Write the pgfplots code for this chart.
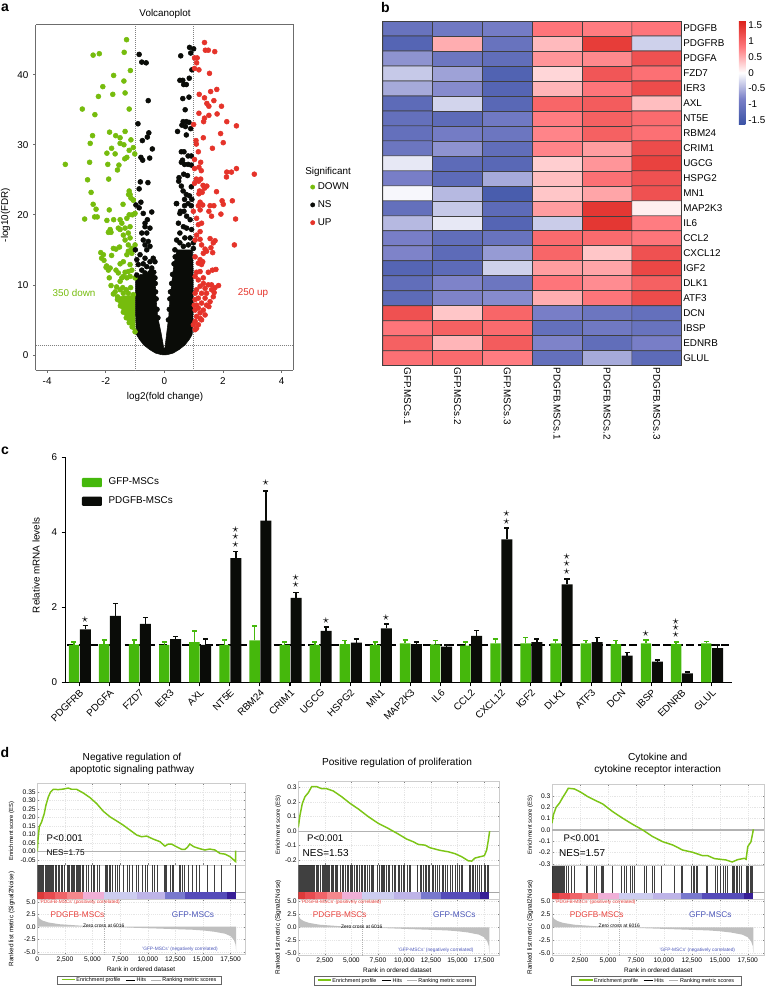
\documentclass[border=0pt]{standalone}
\usepackage{fontspec}
\usepackage{pgfplots}
\usepackage{pgfplotstable}
\pgfplotsset{compat=1.18}
\setmainfont{Liberation Sans}
\definecolor{vgreen}{HTML}{76BC0D}
\definecolor{vred}{HTML}{E5332A}
\definecolor{vblack}{HTML}{0A0C08}
\definecolor{barg}{HTML}{45B80C}
\definecolor{gsgreen}{HTML}{7CC516}
\definecolor{gsframe}{gray}{0.80}
\definecolor{gsgrid}{gray}{0.90}
\definecolor{gsred}{HTML}{E8413C}
\definecolor{gsblue}{HTML}{4A55B8}
\definecolor{sa}{RGB}{222,58,58}
\definecolor{sb}{RGB}{232,75,80}
\definecolor{sc}{RGB}{240,100,105}
\definecolor{sd}{RGB}{245,135,140}
\definecolor{se}{RGB}{240,175,215}
\definecolor{sf}{RGB}{205,205,240}
\definecolor{sg}{RGB}{190,180,232}
\definecolor{sh}{RGB}{120,120,205}
\definecolor{si}{RGB}{85,75,185}
\definecolor{sj}{RGB}{55,30,150}
\newcommand{\fs}[1]{\fontsize{#1}{#1}\selectfont}

\pgfplotsset{
  /pgf/number format/assume math mode=true,
  gsea/.style={scale only axis,xmin=0,axis line style={gsframe,line width=0.6pt},
    tick style={gray,line width=0.3pt},major tick length=1.2pt,grid=major,
    grid style={gsgrid,densely dotted,line width=0.3pt},
    xtick={0,2.5,5,7.5,10,12.5,15,17.5},
    ticklabel style={font=\fs{5}},
    xticklabels={},yticklabel style={inner sep=1pt}},
  gsrank/.style={gsea,xticklabels={0,{2,500},{5,000},{7,500},{10,000},{12,500},{15,000},{17,500}},
    ytick={-5,-2.5,0,2.5,5},yticklabels={-5.0,-2.5,0.0,2.5,5.0},xticklabel style={inner sep=1.5pt}},
  gshit/.style={gsea,ymin=0,ymax=34,ytick=\empty,grid=none,xtick=\empty},
  hits/.style={ycomb,black,opacity=0.75,line width=0.7pt},
}
\newcommand{\seg}[3]{\addplot[fill=#3,draw=none] coordinates {(#1,0)(#2,0)(#2,7)(#1,7)} --cycle;}
\newcommand{\stripdata}{%
  \seg{0}{0.6}{sa}
  \seg{0.6}{1.6}{sb}
  \seg{1.6}{2.7}{sc}
  \seg{2.7}{4.1}{sd}
  \seg{4.1}{6.03}{se}
  \seg{6.03}{9}{sf}
  \seg{9}{11.55}{sg}
  \seg{11.55}{13.4}{sh}
  \seg{13.4}{17.15}{si}
  \seg{17.15}{18}{sj}
  \addplot[gray!70,line width=0.5pt] coordinates {(18,7)(30,7)};
}
% ranked list metric, common to the three GSEA panels
\newcommand{\metric}{%
  \addplot[fill=gray!50,draw=none] coordinates {(0,0)(0,3.3)(0.03,2.6)(0.08,2.0)(0.2,1.6)(0.5,1.2)(1,0.85)(2,0.5)(3,0.35)(4,0.2)(5,0.1)(6.016,0)
   (8,-0.15)(10,-0.3)(12,-0.45)(14,-0.6)(15,-0.75)(16,-1.0)(17,-1.4)(17.5,-1.9)(17.8,-2.7)(17.95,-3.6)(18,-5)(18,0)} --cycle;
  \addplot[gray!60,densely dotted,line width=0.4pt] coordinates {(6.016,-5.5)(6.016,5.5)};
}
\newcommand{\gsealegend}[3]{\node[draw=gray!80!black,line width=0.5pt,inner sep=1.2pt,minimum width=#3*0.75pt,font=\fs{4.1}] at (#1,#2)
  {\textcolor{gsgreen}{\rule[1.2pt]{10pt}{0.8pt}} Enrichment profile\hspace{4pt}\textcolor{black}{\rule[1.2pt]{7pt}{0.5pt}} Hits\hspace{4pt}\textcolor{gray!60}{\rule[1.2pt]{7pt}{0.5pt}} Ranking metric scores};}

\pgfplotstableread{
i  g    ge   b    be
0  1.00 0.08 1.41 0.10
1  1.02 0.11 1.77 0.33
2  1.02 0.11 1.56 0.17
3  1.00 0.08 1.15 0.07
4  1.07 0.30 1.00 0.16
5  1.00 0.13 3.31 0.18
6  1.12 0.38 4.31 0.79
7  1.00 0.08 2.25 0.14
8  1.00 0.08 1.37 0.10
9  1.02 0.09 1.06 0.10
10 1.00 0.08 1.44 0.12
11 1.04 0.09 1.02 0.06
12 1.01 0.10 0.95 0.05
13 0.98 0.09 1.24 0.14
14 1.04 0.12 3.81 0.31
15 1.04 0.16 1.07 0.09
16 1.04 0.09 2.61 0.15
17 1.04 0.07 1.07 0.13
18 1.02 0.09 0.71 0.08
19 1.04 0.09 0.55 0.04
20 1.02 0.06 0.24 0.03
21 1.04 0.05 0.91 0.09
}\qpcr

\begin{document}
\begin{tikzpicture}[x=0.75pt,y=-0.75pt,font=\fs{7.4}]
\path[use as bounding box] (0,0) rectangle (766,988);

% ---------- a: volcano
\begin{axis}[at={(35.7*0.75pt,-25*0.75pt)},anchor=north west,scale only axis,
  width=257.6*0.75pt,height=345.3*0.75pt,
  xmin=-4.39,xmax=4.40,ymin=-2.2,ymax=47.1,
  axis line style={gray!85!black,line width=0.75pt},
  tick style={gray!85!black,line width=0.5pt},major tick length=2pt,tick align=outside,
  axis x line*=bottom,axis y line*=left,
  xtick={-4,-2,0,2,4},xticklabels={-4,-2,0,2,4},
  ytick={0,10,20,30,40},
  legend cell align=left,
  legend style={at={(1.065,0.552)},anchor=north west,draw=none,fill=none,font=\fs{7.4},row sep=2.7pt,inner sep=0pt},
  legend image code/.code={\fill[#1] (0.15cm,0) circle (1.6pt);},
  ]
  \addplot[gray,densely dotted,line width=0.5pt,forget plot] coordinates {(-0.99,-2.2)(-0.99,47.1)};
  \addplot[gray,densely dotted,line width=0.5pt,forget plot] coordinates {(0.99,-2.2)(0.99,47.1)};
  \addplot[gray,densely dotted,line width=0.5pt,forget plot] coordinates {(-4.39,1.33)(4.40,1.33)};
  % dense parts of the cloud
  \addplot[vgreen,fill=vgreen,forget plot] coordinates {(-1.0,3.1)(-1.25,4.8)(-1.5,6.9)(-1.66,8.2)(-1.4,8.4)(-1.0,8.5)} --cycle;
  \addplot[vblack,fill=vblack,forget plot] coordinates {(-0.95,2.9)(-0.85,2.2)(-0.7,1.4)(-0.5,0.75)(-0.3,0.25)(-0.1,0.03)(0,0)(0.1,0.03)(0.3,0.25)(0.5,0.75)(0.7,1.4)(0.85,2.2)(0.95,2.9)(0.98,6)(0.98,9)(0.98,12)(0.96,15)(0.7,15)(0.43,15)(0.33,13)(0.25,10.2)(0.19,7.9)(0.15,5.5)(0.08,3.1)(0.02,1)(0,0.9)(-0.02,1)(-0.11,3.1)(-0.23,5.5)(-0.28,7.9)(-0.31,10.2)(-0.36,12)(-0.45,12.5)(-0.6,11.5)(-0.8,11.5)(-0.98,11)(-0.98,6)} --cycle;
  \addplot[only marks,mark=*,mark size=1.85pt,vgreen,mark options={draw=vgreen,fill=vgreen}] coordinates {
   (-1.29,45.0)(-1.37,43.2)(-2.43,42.8)(-2.22,43.0)(-1.16,40.6)(-1.73,39.9)(-1.38,39.1)(-2.10,38.3)(-1.34,37.4)(-1.76,37.2)
   (-2.25,36.9)(-2.80,35.1)(-1.20,35.1)(-2.37,34.3)(-1.87,31.8)(-1.34,31.9)(-1.66,31.3)(-2.45,31.3)(-1.51,31.0)(-1.14,30.7)
   (-2.53,30.2)(-1.51,30.2)(-1.38,30.0)(-1.80,29.5)(-1.06,29.6)(-1.20,29.2)(-1.96,28.8)(-1.68,28.7)(-1.01,28.7)(-1.28,28.2)
   (-1.35,28.0)(-3.38,27.2)(-2.55,27.5)(-1.93,27.2)(-1.55,27.1)(-1.60,26.4)(-2.62,25.0)(-1.90,25.1)(-2.50,23.2)(-1.20,23.4)
   (-1.22,22.9)(-1.14,22.4)(-2.43,21.5)(-1.41,21.5)(-1.06,22.1)(-2.33,20.8)(-1.88,20.7)(-2.38,19.7)(-2.29,19.7)(-2.72,19.4)
   (-1.96,19.2)(-1.73,19.3)(-1.17,22.9)(-1.06,22.1)(-1.20,20.0)(-1.09,20.0)(-1.00,20.2)(-1.28,19.5)(-1.51,19.3)(-1.45,18.8)
   (-1.57,18.1)(-1.85,17.9)(-1.91,17.5)(-1.82,17.5)(-1.34,18.1)(-1.17,18.3)(-1.51,17.9)(-1.40,17.1)(-1.23,17.4)(-1.17,16.7)
   (-1.34,16.4)(-1.23,15.7)(-1.00,15.7)(-1.11,15.2)(-1.74,15.2)(-1.53,15.4)(-1.65,15.1)(-2.17,14.6)(-2.08,14.3)(-2.14,13.8)
   (-2.06,13.5)(-1.23,14.8)(-1.28,14.3)(-1.80,14.2)(-1.11,14.5)(-1.40,13.3)(-1.51,13.0)(-1.97,12.7)(-1.85,12.4)(-1.91,12.1)
   (-1.99,12.5)(-1.65,12.1)(-1.17,12.9)(-1.23,11.9)(-1.34,11.8)(-1.40,11.2)(-1.57,11.7)(-1.51,10.5)(-1.88,11.0)(-1.28,11.0)
   (-1.17,11.2)(-1.45,11.0)(-1.11,12.1)(-1.00,11.0)(-1.82,9.9)(-1.63,9.7)(-1.51,9.3)(-1.40,8.8)(-1.23,8.8)(-1.06,8.6)
   (-1.68,9.0)(-1.74,8.7)(-1.60,8.3)(-1.0,3.3)(-1.1,4)(-1.2,4.6)(-1.3,5.3)(-1.4,6.1)(-1.5,7)(-1.6,7.9)(-1.30,9.3)(-1.15,9.6)(-1.42,9.6)
  };
  \addlegendentry{DOWN}
  \addplot[only marks,mark=*,mark size=1.85pt,vblack,mark options={draw=vblack,fill=vblack}] coordinates {
   (-0.86,42.9)(-0.77,41.8)(-0.62,41.7)(-0.55,36.3)(-0.90,33.0)(-0.53,31.7)(-0.58,31.1)(-0.75,30.6)(-0.41,29.4)(-0.80,28.2)
   (-0.74,27.8)(-0.50,28.1)(-0.82,24.7)(-0.56,24.6)(-0.86,23.7)
   (0.86,43.9)(1.00,43.7)(0.56,42.7)(0.90,43.1)(0.94,40.7)(0.85,39.5)(0.53,39.2)(0.63,39.2)(0.66,38.6)(0.75,38.6)
   (0.63,36.6)(0.84,36.8)(0.71,35.0)(0.64,33.3)(0.75,33.3)(0.84,33.2)(0.60,32.8)(0.72,32.6)(0.90,32.3)(0.45,31.9)
   (0.75,31.4)(0.58,29.0)(0.67,29.0)(0.81,28.4)(0.92,28.4)(0.58,27.5)(0.69,27.2)(0.81,27.2)(0.92,27.1)(0.62,27.8)
   (0.66,25.8)(0.79,25.6)(0.50,25.3)(0.49,24.8)(0.92,24.0)(0.58,24.1)(0.64,23.4)(0.75,22.9)(0.86,22.7)(0.94,22.2)
   (0.69,22.2)(0.41,21.6)(0.81,21.6)(0.92,21.3)(0.69,21.3)(0.55,20.5)
   (-0.97,21.4)(-0.80,21.8)(-0.86,21.0)(-0.72,20.2)(-0.43,20.4)(-0.58,19.3)(-0.66,18.8)(-0.49,18.1)(-0.66,18.3)(-0.77,17.4)
   (-0.60,17.4)(-0.72,16.4)(-0.55,16.2)(-0.49,15.5)(-0.66,15.7)(-0.99,15.0)(-0.60,15.0)(-0.83,14.3)(-0.66,13.8)(-0.38,13.8)
   (-0.49,13.3)(-0.89,12.9)(-0.72,13.0)(-0.60,12.6)(-0.32,13.3)(-0.94,13.6)(-0.43,12.4)(-0.77,12.1)(-0.94,11.4)(-0.66,11.7)
   (-0.49,11.7)(-0.38,10.7)(-0.31,10.2)(-0.30,9)(-0.28,8)(-0.25,6.5)(-0.22,5.3)(-0.32,11)(-0.36,11.8)
   (0.42,21.6)(0.53,20.2)(0.67,20.5)(0.76,19.8)(0.48,18.8)(0.88,19.3)(0.65,18.3)(0.76,18.1)(0.93,17.9)(0.42,16.4)
   (0.53,17.4)(0.88,16.7)(0.70,16.7)(0.99,16.0)(0.82,15.7)(0.53,16.0)(0.65,15.5)(0.36,15.0)(0.99,15.2)
   (0.25,10.2)(0.21,9)(0.19,8)(0.17,6.5)(0.14,5)(0.28,11.5)(0.33,13)(0.37,14)
  };
  \addlegendentry{NS}
  \addplot[only marks,mark=*,mark size=1.85pt,vred,mark options={draw=vred,fill=vred}] coordinates {
   (1.37,44.6)(1.40,43.5)(1.50,43.5)(1.72,43.3)(1.03,42.4)(1.12,42.4)(1.10,41.7)(1.03,40.9)(1.18,40.7)(1.54,40.2)
   (1.79,37.9)(1.58,37.6)(1.19,37.2)(1.37,36.7)(1.69,36.3)(1.45,35.9)(1.52,35.5)(1.95,35.5)(1.18,34.5)(1.52,34.2)
   (1.80,34.4)(1.37,33.8)(1.34,33.3)(1.00,32.9)(2.13,33.3)(2.46,32.7)(1.92,31.6)(1.33,31.0)(1.08,30.6)(1.09,30.1)
   (2.01,30.3)(1.64,29.5)(1.16,29.0)(1.24,27.5)(1.03,27.9)(1.18,26.8)(1.03,26.6)(1.26,26.3)(2.13,26.1)(2.29,26.1)
   (2.46,26.6)(3.07,25.8)(2.12,25.4)(1.09,25.1)(1.17,24.8)(1.24,25.1)(1.03,24.5)(1.32,24.2)(1.45,24.1)(1.37,23.8)
   (1.20,23.4)(1.78,23.3)(1.29,23.2)(1.18,23.0)(2.32,22.0)(1.97,22.0)(2.01,21.5)(1.56,21.3)(1.69,21.3)(1.22,21.8)
   (1.16,21.3)(1.31,21.4)(1.22,20.7)(0.99,20.5)(1.52,20.5)(1.61,19.8)(1.93,20.1)(2.43,19.4)(1.10,19.5)(1.27,18.8)
   (1.16,18.6)(1.22,17.6)(1.10,17.1)(1.56,16.6)(1.73,16.3)(1.67,16.0)(2.39,15.7)(1.05,16.4)(1.22,16.5)(1.27,15.7)
   (1.59,15.3)(1.39,15.1)(1.33,14.5)(1.44,14.8)(1.65,14.6)(1.05,14.0)(1.22,13.6)(1.31,13.3)(1.16,13.1)(1.27,12.9)
   (1.76,12.2)(1.64,12.1)(1.50,11.8)(1.22,11.9)(1.10,11.8)(1.05,11.2)(1.33,11.0)(1.16,10.7)(1.61,10.0)(1.33,10.2)
   (1.50,10.0)(1.85,9.9)(1.73,9.6)(1.22,9.8)(1.39,9.5)(1.61,9.3)(1.10,9.3)(1.05,8.8)(1.27,8.8)(1.44,8.8)
   (1.70,8.9)(1.67,8.3)(1.16,8.1)(1.39,8.1)(1.05,7.9)(1.56,7.6)(1.27,7.4)(1.44,7.1)(1.16,6.7)(1.33,6.4)
   (1.05,6.4)(1.52,6.9)(1.22,6.0)(1.39,5.7)(1.10,5.5)(1.27,5.0)(1.05,4.8)(1.16,4.3)(1.05,3.6)(1.10,3.8)
   (1.22,5.2)(0.99,4.3)(1.02,7.1)(1.10,7.1)
  };
  \addlegendentry{UP}
\end{axis}
\draw[gray!85!black,line width=0.75pt] (35.7,25) -- (293.3,25) -- (293.3,370.3);
\node[font=\fs{7.4}] at (165,13.5) {Volcanoplot};
\node[rotate=90,font=\fs{7.4}] at (5.5,215) {-log10(FDR)};
\node[font=\fs{7.4}] at (165,397) {log2(fold change)};
\node[anchor=west,inner sep=0pt] at (305,172) {Significant};
\node[text=vgreen] at (74,293) {350 down};
\node[text=vred] at (253,293.5) {250 up};

% ---------- b: heat map
\begin{axis}[at={(382.7*0.75pt,-21*0.75pt)},anchor=north west,scale only axis,
  width=299*0.75pt,height=344.7*0.75pt,
  xmin=-0.5,xmax=5.5,ymin=-0.5,ymax=22.5,y dir=reverse,
  colormap={heat}{rgb255(0)=(58,82,165) rgb255(1)=(122,128,200) rgb255(2)=(255,255,255) rgb255(3)=(255,120,125) rgb255(4)=(220,35,28)},
  point meta min=-1.646,point meta max=1.646,
  tick style={draw=none},major tick length=0pt,
  axis line style={black!75,line width=0.5pt},
  xtick={0,...,5},ytick={0,...,22},
  xticklabels={GFP.MSCs.1,GFP.MSCs.2,GFP.MSCs.3,PDGFB.MSCs.1,PDGFB.MSCs.2,PDGFB.MSCs.3},
  yticklabels={PDGFB,PDGFRB,PDGFA,FZD7,IER3,AXL,NT5E,RBM24,CRIM1,UGCG,HSPG2,MN1,MAP2K3,IL6,CCL2,CXCL12,IGF2,DLK1,ATF3,DCN,IBSP,EDNRB,GLUL},
  yticklabel pos=right,xticklabel pos=lower,
  xticklabel style={rotate=-90,anchor=west,inner sep=1.5pt,font=\fs{7.4}},
  yticklabel style={anchor=west,inner sep=1pt,font=\fs{7.4}},
  colorbar,
  colorbar style={at={(1.1909,1)},anchor=north west,width=6.7*0.75pt,height=103.7*0.75pt,
    ytick={-1.5,-1,-0.5,0,0.5,1,1.5},yticklabels={-1.5,-1,-0.5,0,0.5,1,1.5},
    axis line style={draw=none},tick style={draw=none},major tick length=0pt,
    yticklabel style={font=\fs{7.4},inner sep=2pt}},
  ]
  \addplot[matrix plot,mesh/cols=6,point meta=explicit,draw=black!75,line width=0.5pt] coordinates {
   (0,0)[-1.05](1,0)[-0.95](2,0)[-0.90](3,0)[0.85](4,0)[0.80](5,0)[0.85]
   (0,1)[-1.30](1,1)[0.50](2,1)[-1.05](3,1)[0.42](4,1)[1.40](5,1)[-0.30]
   (0,2)[-0.70](1,2)[-1.00](2,2)[-1.15](3,2)[0.65](4,2)[0.72](5,2)[1.20]
   (0,3)[-0.35](1,3)[-0.60](2,3)[-1.35](3,3)[0.25](4,3)[1.15](5,3)[0.90]
   (0,4)[-0.55](1,4)[-0.75](2,4)[-1.30](3,4)[0.45](4,4)[0.85](5,4)[1.25]
   (0,5)[-1.20](1,5)[-0.28](2,5)[-1.25](3,5)[1.00](4,5)[1.10](5,5)[0.40]
   (0,6)[-1.10](1,6)[-1.20](2,6)[-0.95](3,6)[0.80](4,6)[1.05](5,6)[0.95]
   (0,7)[-1.10](1,7)[-0.90](2,7)[-1.00](3,7)[0.75](4,7)[1.05](5,7)[0.90]
   (0,8)[-1.00](1,8)[-0.70](2,8)[-1.15](3,8)[0.75](4,8)[0.60](5,8)[1.25]
   (0,9)[-0.15](1,9)[-1.20](2,9)[-1.25](3,9)[0.30](4,9)[0.65](5,9)[1.35]
   (0,10)[-0.85](1,10)[-1.20](2,10)[-0.55](3,10)[0.40](4,10)[0.90](5,10)[1.20]
   (0,11)[-0.05](1,11)[-0.45](2,11)[-1.45](3,11)[0.35](4,11)[0.55](5,11)[1.20]
   (0,12)[-1.10](1,12)[-0.35](2,12)[-1.20](3,12)[0.60](4,12)[1.45](5,12)[0.10]
   (0,13)[-0.45](1,13)[-0.15](2,13)[-1.30](3,13)[-0.33](4,13)[1.45](5,13)[0.80]
   (0,14)[-0.85](1,14)[-1.15](2,14)[-1.05](3,14)[0.95](4,14)[0.95](5,14)[0.85]
   (0,15)[-0.80](1,15)[-1.20](2,15)[-0.65](3,15)[1.00](4,15)[0.35](5,15)[1.20]
   (0,16)[-1.30](1,16)[-1.20](2,16)[-0.30](3,16)[0.60](4,16)[0.55](5,16)[1.30]
   (0,17)[-1.15](1,17)[-0.80](2,17)[-1.00](3,17)[0.85](4,17)[0.70](5,17)[1.05]
   (0,18)[-1.20](1,18)[-0.80](2,18)[-0.75](3,18)[0.50](4,18)[0.85](5,18)[1.25]
   (0,19)[1.20](1,19)[0.35](2,19)[1.00](3,19)[-0.85](4,19)[-1.00](5,19)[-1.10]
   (0,20)[0.85](1,20)[1.05](2,20)[0.95](3,20)[-1.10](4,20)[-0.95](5,20)[-1.05]
   (0,21)[1.05](1,21)[0.45](2,21)[1.10](3,21)[-0.80](4,21)[-1.15](5,21)[-0.85]
   (0,22)[0.90](1,22)[0.95](2,22)[0.80](3,22)[-1.10](4,22)[-0.55](5,22)[-1.20]
  };
\end{axis}

% ---------- c: qPCR bars
\begin{axis}[at={(65.7*0.75pt,-457.3*0.75pt)},anchor=north west,scale only axis,
  width=666*0.75pt,height=225*0.75pt,
  xmin=-0.45,xmax=21.67,ymin=0,ymax=6,
  axis x line*=bottom,axis y line*=left,
  axis line style={black,line width=0.9pt,-},
  tick style={black,line width=0.8pt},major tick length=3pt,tick align=outside,
  xtick={0,...,21},ytick={0,2,4,6},
  xticklabels={PDGFRB,PDGFA,FZD7,IER3,AXL,NT5E,RBM24,CRIM1,UGCG,HSPG2,MN1,MAP2K3,IL6,CCL2,CXCL12,IGF2,DLK1,ATF3,DCN,IBSP,EDNRB,GLUL},
  xticklabel style={rotate=45,anchor=north east,inner sep=1pt,font=\fs{7.4}},
  ylabel={Relative mRNA levels},ylabel style={font=\fs{7.4},at={(-0.032,0.52)},anchor=south},
  legend cell align=left,
  legend style={at={(0.024,0.921)},anchor=north west,draw=none,fill=none,font=\fs{7.4},row sep=3.4pt,inner sep=0pt},
  ]
  \addplot[black,line width=1.1pt,dash pattern=on 6pt off 2.6pt,forget plot] coordinates {(-0.4,1)(21.67,1)};
  \addplot[ybar,bar width=10.4*0.75pt,bar shift=0pt,draw=none,fill=barg,area legend,
    legend image code/.code={\fill[barg,rounded corners=0.8pt] (0cm,-3.5pt) rectangle (15pt,3.5pt);\path (18pt,0);},
    error bars/.cd,y dir=plus,y explicit,error bar style={barg,line width=1.1pt},
    error mark options={rotate=90,barg,line width=1.1pt,mark size=1.9pt}]
    table[x expr=\thisrow{i}-0.176,y=g,y error=ge] {\qpcr};
  \addlegendentry{GFP-MSCs}
  \addplot[ybar,bar width=11*0.75pt,bar shift=0pt,draw=none,fill=vblack,area legend,
    legend image code/.code={\fill[vblack,rounded corners=0.8pt] (0cm,-3.5pt) rectangle (15pt,3.5pt);\path (18pt,0);},
    error bars/.cd,y dir=plus,y explicit,error bar style={vblack,line width=1.1pt},
    error mark options={rotate=90,vblack,line width=1.1pt,mark size=1.9pt}]
    table[x expr=\thisrow{i}+0.2,y=b,y error=be] {\qpcr};
  \addlegendentry{PDGFB-MSCs}
  \addplot[only marks,mark=text,text mark={\fontsize{9}{9}\selectfont$\star$},forget plot,black!85] coordinates {
   (0.19,1.68)(5.19,4.08)(5.19,3.88)(5.19,3.68)(6.19,5.31)(7.19,2.78)(7.19,2.59)(8.19,1.63)(10.19,1.73)
   (14.19,4.49)(14.19,4.29)(16.19,3.34)(16.19,3.15)(16.19,2.94)(18.81,1.30)(19.81,1.62)(19.81,1.45)(19.81,1.26)};
\end{axis}

% ---------- d: GSEA, first panel
\begin{axis}[gsea,at={(37.3*0.75pt,-783.3*0.75pt)},anchor=north west,width=208.4*0.75pt,height=81.7*0.75pt,
  xmax=18.86,ymin=-0.08,ymax=0.40,
  ytick={-0.05,0,0.05,0.10,0.15,0.20,0.25,0.30,0.35},yticklabels={-0.05,0.00,0.05,0.10,0.15,0.20,0.25,0.30,0.35}]
  \addplot[gray!60,line width=0.8pt] coordinates {(0,0)(18.86,0)};
  \addplot[gsgreen,line width=1.1pt] coordinates {(0,0)(0.06,0.066)(0.18,0.144)(0.39,0.173)(0.63,0.222)(0.78,0.271)(1.0,0.32)(1.2,0.349)(1.45,0.365)(1.9,0.363)(2.35,0.366)(2.8,0.372)(3.1,0.365)(3.55,0.365)(4.16,0.343)(4.77,0.316)(5.37,0.281)(5.97,0.236)(6.58,0.203)(7.18,0.179)(7.78,0.154)(8.39,0.125)(9.0,0.096)(9.44,0.086)(9.9,0.09)(10.5,0.072)(11.1,0.057)(11.55,0.031)(11.85,0.043)(12.15,0.043)(12.6,0.027)(13.06,0.012)(13.36,0.012)(13.57,0.023)(13.8,0.043)(14.18,0.027)(14.7,0.016)(15.17,0.008)(15.6,0.014)(16.08,0.008)(16.53,-0.012)(16.98,-0.016)(17.44,-0.031)(17.95,-0.06)(17.95,0.004)};
\end{axis}
\begin{axis}[gshit,at={(37.3*0.75pt,-865*0.75pt)},anchor=north west,width=208.4*0.75pt,height=34*0.75pt,xmax=18.86]
  \addplot[hits] coordinates {(0.05,34)(0.1,34)(0.2,34)(0.28,34)(0.35,34)(0.42,34)(0.5,34)(0.55,34)(0.6,34)(0.7,34)(0.78,34)(0.85,34)(0.92,34)(1.0,34)(1.05,34)(1.1,34)(1.2,34)(1.25,34)(1.3,34)(1.4,34)(1.5,34)(1.6,34)(1.7,34)(1.75,34)(1.95,34)(2.05,34)(2.2,34)(2.3,34)(2.45,34)(2.7,34)(2.8,34)(2.95,34)(3.1,34)(3.2,34)(3.3,34)(3.4,34)(3.5,34)(3.6,34)(3.7,34)(3.85,34)(3.95,34)(4.1,34)(4.2,34)(4.45,34)(4.6,34)(4.65,34)(4.9,34)(5.05,34)(5.2,34)(5.4,34)(5.6,34)(6.15,34)(6.25,34)(6.35,34)(6.5,34)(6.65,34)(6.8,34)(7.1,34)(7.25,34)(7.4,34)(7.8,34)(8.15,34)(8.3,34)(8.6,34)(9.0,34)(9.2,34)(9.5,34)(9.75,34)(10.0,34)(10.4,34)(10.6,34)(10.9,34)(11.55,34)(11.6,34)(11.7,34)(12.05,34)(12.2,34)(12.3,34)(12.9,34)(13.0,34)(13.1,34)(13.3,34)(13.7,34)(14.05,34)(14.4,34)(14.7,34)(15.4,34)(16.0,34)(16.7,34)(17.95,34)};
  \stripdata
\end{axis}
\begin{axis}[gsrank,at={(37.3*0.75pt,-899*0.75pt)},anchor=north west,width=208.4*0.75pt,height=55.3*0.75pt,
  xmax=18.86,ymin=-5.52,ymax=5.54]
  \metric
\end{axis}
\node[anchor=west,font=\fs{7.2}] at (42,838) {P<0.001};
\node[anchor=west,font=\fs{6.2}] at (42,852.7) {NES=1.75};
\node[font=\fs{7.6}] at (132,757.7) {Negative regulation of};
\node[font=\fs{7.6}] at (132,769.5) {apoptotic signaling pathway};
\node[rotate=90,font=\fs{4.4}] at (11.7,831) {Enrichment score (ES)};
\node[rotate=90,font=\fs{4.8}] at (11.7,919) {Ranked list metric (Signal2Noise)};
\node[anchor=west,inner sep=0pt,text=gsred,font=\fs{3.6}] at (39.3,902.5) {'PDGFB-MSCs' (positively correlated)};
\node[text=gsred,font=\fs{6.2}] at (77.5,915) {PDGFB-MSCs};
\node[text=gsblue,font=\fs{6.2}] at (193,915) {GFP-MSCs};
\node[font=\fs{3.7}] at (103.7,925.3) {Zero cross at 6016};
\node[text=gsblue,font=\fs{3.6}] at (180,949.3) {'GFP-MSCs' (negatively correlated)};
\node[font=\fs{4.8}] at (141,969.3) {Rank in ordered dataset};
\gsealegend{139}{980.5}{164}

% second panel
\begin{axis}[gsea,at={(298.3*0.75pt,-781.7*0.75pt)},anchor=north west,width=201*0.75pt,height=83.3*0.75pt,
  xmax=18.94,ymin=-0.234,ymax=0.34,
  ytick={-0.2,-0.1,0,0.1,0.2,0.3},yticklabels={-0.2,-0.1,0.0,0.1,0.2,0.3}]
  \addplot[gray!60,line width=0.8pt] coordinates {(0,0)(18.94,0)};
  \addplot[gsgreen,line width=1.1pt] coordinates {(0,0.025)(0.16,0.11)(0.38,0.19)(0.63,0.237)(0.94,0.264)(1.26,0.306)(1.73,0.306)(2.2,0.292)(2.67,0.292)(3.3,0.276)(4.08,0.237)(4.87,0.191)(5.66,0.152)(6.6,0.099)(7.54,0.053)(8.48,0.018)(9.43,-0.021)(10.2,-0.055)(10.84,-0.074)(11.3,-0.092)(11.94,-0.097)(12.41,-0.115)(12.88,-0.124)(13.35,-0.133)(14.14,-0.143)(14.77,-0.156)(15.4,-0.177)(16.02,-0.205)(16.34,-0.207)(16.65,-0.186)(17.12,-0.177)(17.53,-0.17)(17.75,-0.131)(17.91,-0.062)(18.03,0)};
\end{axis}
\begin{axis}[gshit,at={(298.3*0.75pt,-865*0.75pt)},anchor=north west,width=201*0.75pt,height=34.3*0.75pt,xmax=18.94]
  \addplot[hits] coordinates {(0.05,34)(0.12,34)(0.2,34)(0.3,34)(0.38,34)(0.45,34)(0.5,34)(0.6,34)(0.68,34)(0.75,34)(0.85,34)(0.92,34)(1.0,34)(1.08,34)(1.15,34)(1.25,34)(1.35,34)(1.4,34)(1.55,34)(1.7,34)(1.8,34)(1.9,34)(2.1,34)(2.25,34)(2.35,34)(2.45,34)(2.55,34)(2.65,34)(2.75,34)(2.85,34)(2.95,34)(3.1,34)(3.2,34)(3.35,34)(3.5,34)(3.6,34)(3.7,34)(4.0,34)(4.2,34)(4.3,34)(4.45,34)(4.6,34)(4.75,34)(4.9,34)(5.0,34)(5.15,34)(5.3,34)(5.45,34)(5.6,34)(5.75,34)(5.95,34)(6.05,34)(6.2,34)(6.35,34)(6.5,34)(6.7,34)(6.85,34)(7.0,34)(7.1,34)(7.5,34)(7.65,34)(7.8,34)(7.95,34)(8.05,34)(8.15,34)(8.3,34)(8.45,34)(8.6,34)(8.9,34)(9.05,34)(9.2,34)(9.4,34)(9.55,34)(9.7,34)(9.9,34)(10.05,34)(10.3,34)(10.45,34)(10.6,34)(11.2,34)(11.55,34)(11.65,34)(11.8,34)(11.95,34)(12.1,34)(12.25,34)(12.4,34)(12.6,34)(12.75,34)(12.95,34)(13.15,34)(13.3,34)(13.55,34)(13.7,34)(13.9,34)(14.1,34)(14.3,34)(14.5,34)(14.8,34)(15.0,34)(15.15,34)(15.35,34)(15.5,34)(16.1,34)(16.25,34)(16.4,34)(16.55,34)(16.7,34)(16.9,34)(17.1,34)(17.3,34)(17.5,34)(17.65,34)(17.8,34)(17.95,34)};
  \stripdata
\end{axis}
\begin{axis}[gsrank,at={(298.3*0.75pt,-899.3*0.75pt)},anchor=north west,width=201*0.75pt,height=56.4*0.75pt,
  xmax=18.94,ymin=-5.46,ymax=5.38]
  \metric
\end{axis}
\node[anchor=west,font=\fs{7.2}] at (302.5,838) {P<0.001};
\node[anchor=west,font=\fs{7.5}] at (298,852.7) {NES=1.53};
\node[font=\fs{7.6}] at (397,763) {Positive regulation of proliferation};
\node[rotate=90,font=\fs{4.4}] at (278.3,825) {Enrichment score (ES)};
\node[rotate=90,font=\fs{4.8}] at (278.3,927.3) {Ranked list metric (Signal2Noise)};
\node[anchor=west,inner sep=0pt,text=gsred,font=\fs{3.6}] at (300.7,902.5) {'PDGFB-MSCs' (positively correlated)};
\node[text=gsred,font=\fs{6.2}] at (339.7,915) {PDGFB-MSCs};
\node[text=gsblue,font=\fs{6.2}] at (454.3,915) {GFP-MSCs};
\node[font=\fs{3.7}] at (361.7,927) {Zero cross at 6016};
\node[text=gsblue,font=\fs{3.6}] at (435.7,950) {'GFP-MSCs' (negatively correlated)};
\node[font=\fs{4.8}] at (397.3,970) {Rank in ordered dataset};
\gsealegend{395}{980.7}{161}

% third panel
\begin{axis}[gsea,at={(552*0.75pt,-784.3*0.75pt)},anchor=north west,width=212.3*0.75pt,height=81.4*0.75pt,
  xmax=18.98,ymin=-0.317,ymax=0.405,
  ytick={-0.3,-0.2,-0.1,0,0.1,0.2,0.3},yticklabels={-0.3,-0.2,-0.1,0.0,0.1,0.2,0.3}]
  \addplot[gray!60,line width=0.8pt] coordinates {(0,0)(18.98,0)};
  \addplot[gsgreen,line width=1.1pt] coordinates {(0,0.06)(0.12,0.133)(0.36,0.2)(0.66,0.237)(0.95,0.287)(1.19,0.325)(1.46,0.37)(2.0,0.364)(2.59,0.334)(3.19,0.296)(3.79,0.266)(4.53,0.231)(5.42,0.163)(6.32,0.104)(7.21,0.05)(8.11,0)(9.0,-0.059)(9.9,-0.104)(10.79,-0.133)(11.68,-0.178)(12.58,-0.198)(13.47,-0.228)(13.92,-0.228)(14.52,-0.254)(15.56,-0.266)(16.1,-0.284)(16.6,-0.263)(17.2,-0.251)(17.35,-0.26)(17.5,-0.148)(17.79,-0.104)(17.94,-0.03)(18.0,0.006)};
\end{axis}
\begin{axis}[gshit,at={(552*0.75pt,-865.7*0.75pt)},anchor=north west,width=212.3*0.75pt,height=34*0.75pt,xmax=18.98]
  \addplot[hits] coordinates {(0.05,34)(0.12,34)(0.2,34)(0.28,34)(0.36,34)(0.45,34)(0.55,34)(0.62,34)(0.7,34)(0.78,34)(0.85,34)(0.92,34)(1.0,34)(1.08,34)(1.15,34)(1.25,34)(1.5,34)(1.7,34)(2.0,34)(3.04,34)(3.2,34)(3.8,34)(3.95,34)(4.4,34)(4.48,34)(4.6,34)(5.4,34)(6.2,34)(6.45,34)(6.7,34)(7.05,34)(7.2,34)(7.35,34)(8.25,34)(8.4,34)(9.0,34)(9.2,34)(9.75,34)(10.95,34)(11.55,34)(11.7,34)(12.5,34)(12.65,34)(12.75,34)(12.9,34)(13.0,34)(13.8,34)(13.9,34)(14.6,34)(14.8,34)(15.1,34)(15.3,34)(15.55,34)(15.7,34)(16.15,34)(16.25,34)(16.35,34)(16.45,34)(16.6,34)(16.75,34)(16.9,34)(17.35,34)(17.45,34)(17.55,34)(17.6,34)(17.75,34)(17.85,34)(17.95,34)};
  \stripdata
\end{axis}
\begin{axis}[gsrank,at={(552*0.75pt,-899.7*0.75pt)},anchor=north west,width=212.3*0.75pt,height=56*0.75pt,
  xmax=18.98,ymin=-5.46,ymax=5.31]
  \metric
\end{axis}
\node[anchor=west,font=\fs{7.2}] at (559,838) {P<0.001};
\node[anchor=west,font=\fs{7.5}] at (554.5,852.7) {NES=1.57};
\node[font=\fs{7.6}] at (657.7,757.7) {Cytokine and};
\node[font=\fs{7.6}] at (657.7,769.5) {cytokine receptor interaction};
\node[rotate=90,font=\fs{4.4}] at (530.3,825) {Enrichment score (ES)};
\node[rotate=90,font=\fs{4.8}] at (530.3,927.3) {Ranked list metric (Signal2Noise)};
\node[anchor=west,inner sep=0pt,text=gsred,font=\fs{3.6}] at (555,902.5) {'PDGFB-MSCs' (positively correlated)};
\node[text=gsred,font=\fs{6.2}] at (596.7,915) {PDGFB-MSCs};
\node[text=gsblue,font=\fs{6.2}] at (710.3,915) {GFP-MSCs};
\node[font=\fs{3.7}] at (619.3,925.7) {Zero cross at 6016};
\node[text=gsblue,font=\fs{3.6}] at (697.3,950) {'GFP-MSCs' (negatively correlated)};
\node[font=\fs{4.8}] at (658.3,970) {Rank in ordered dataset};
\gsealegend{656.7}{980.7}{170}

% panel letters
\node[font=\bfseries\fs{10.5}] at (5,8) {a};
\node[font=\bfseries\fs{10.5}] at (385.5,7) {b};
\node[font=\bfseries\fs{10.5}] at (5,451) {c};
\node[font=\bfseries\fs{10.5}] at (5,752) {d};
\end{tikzpicture}
\end{document}
